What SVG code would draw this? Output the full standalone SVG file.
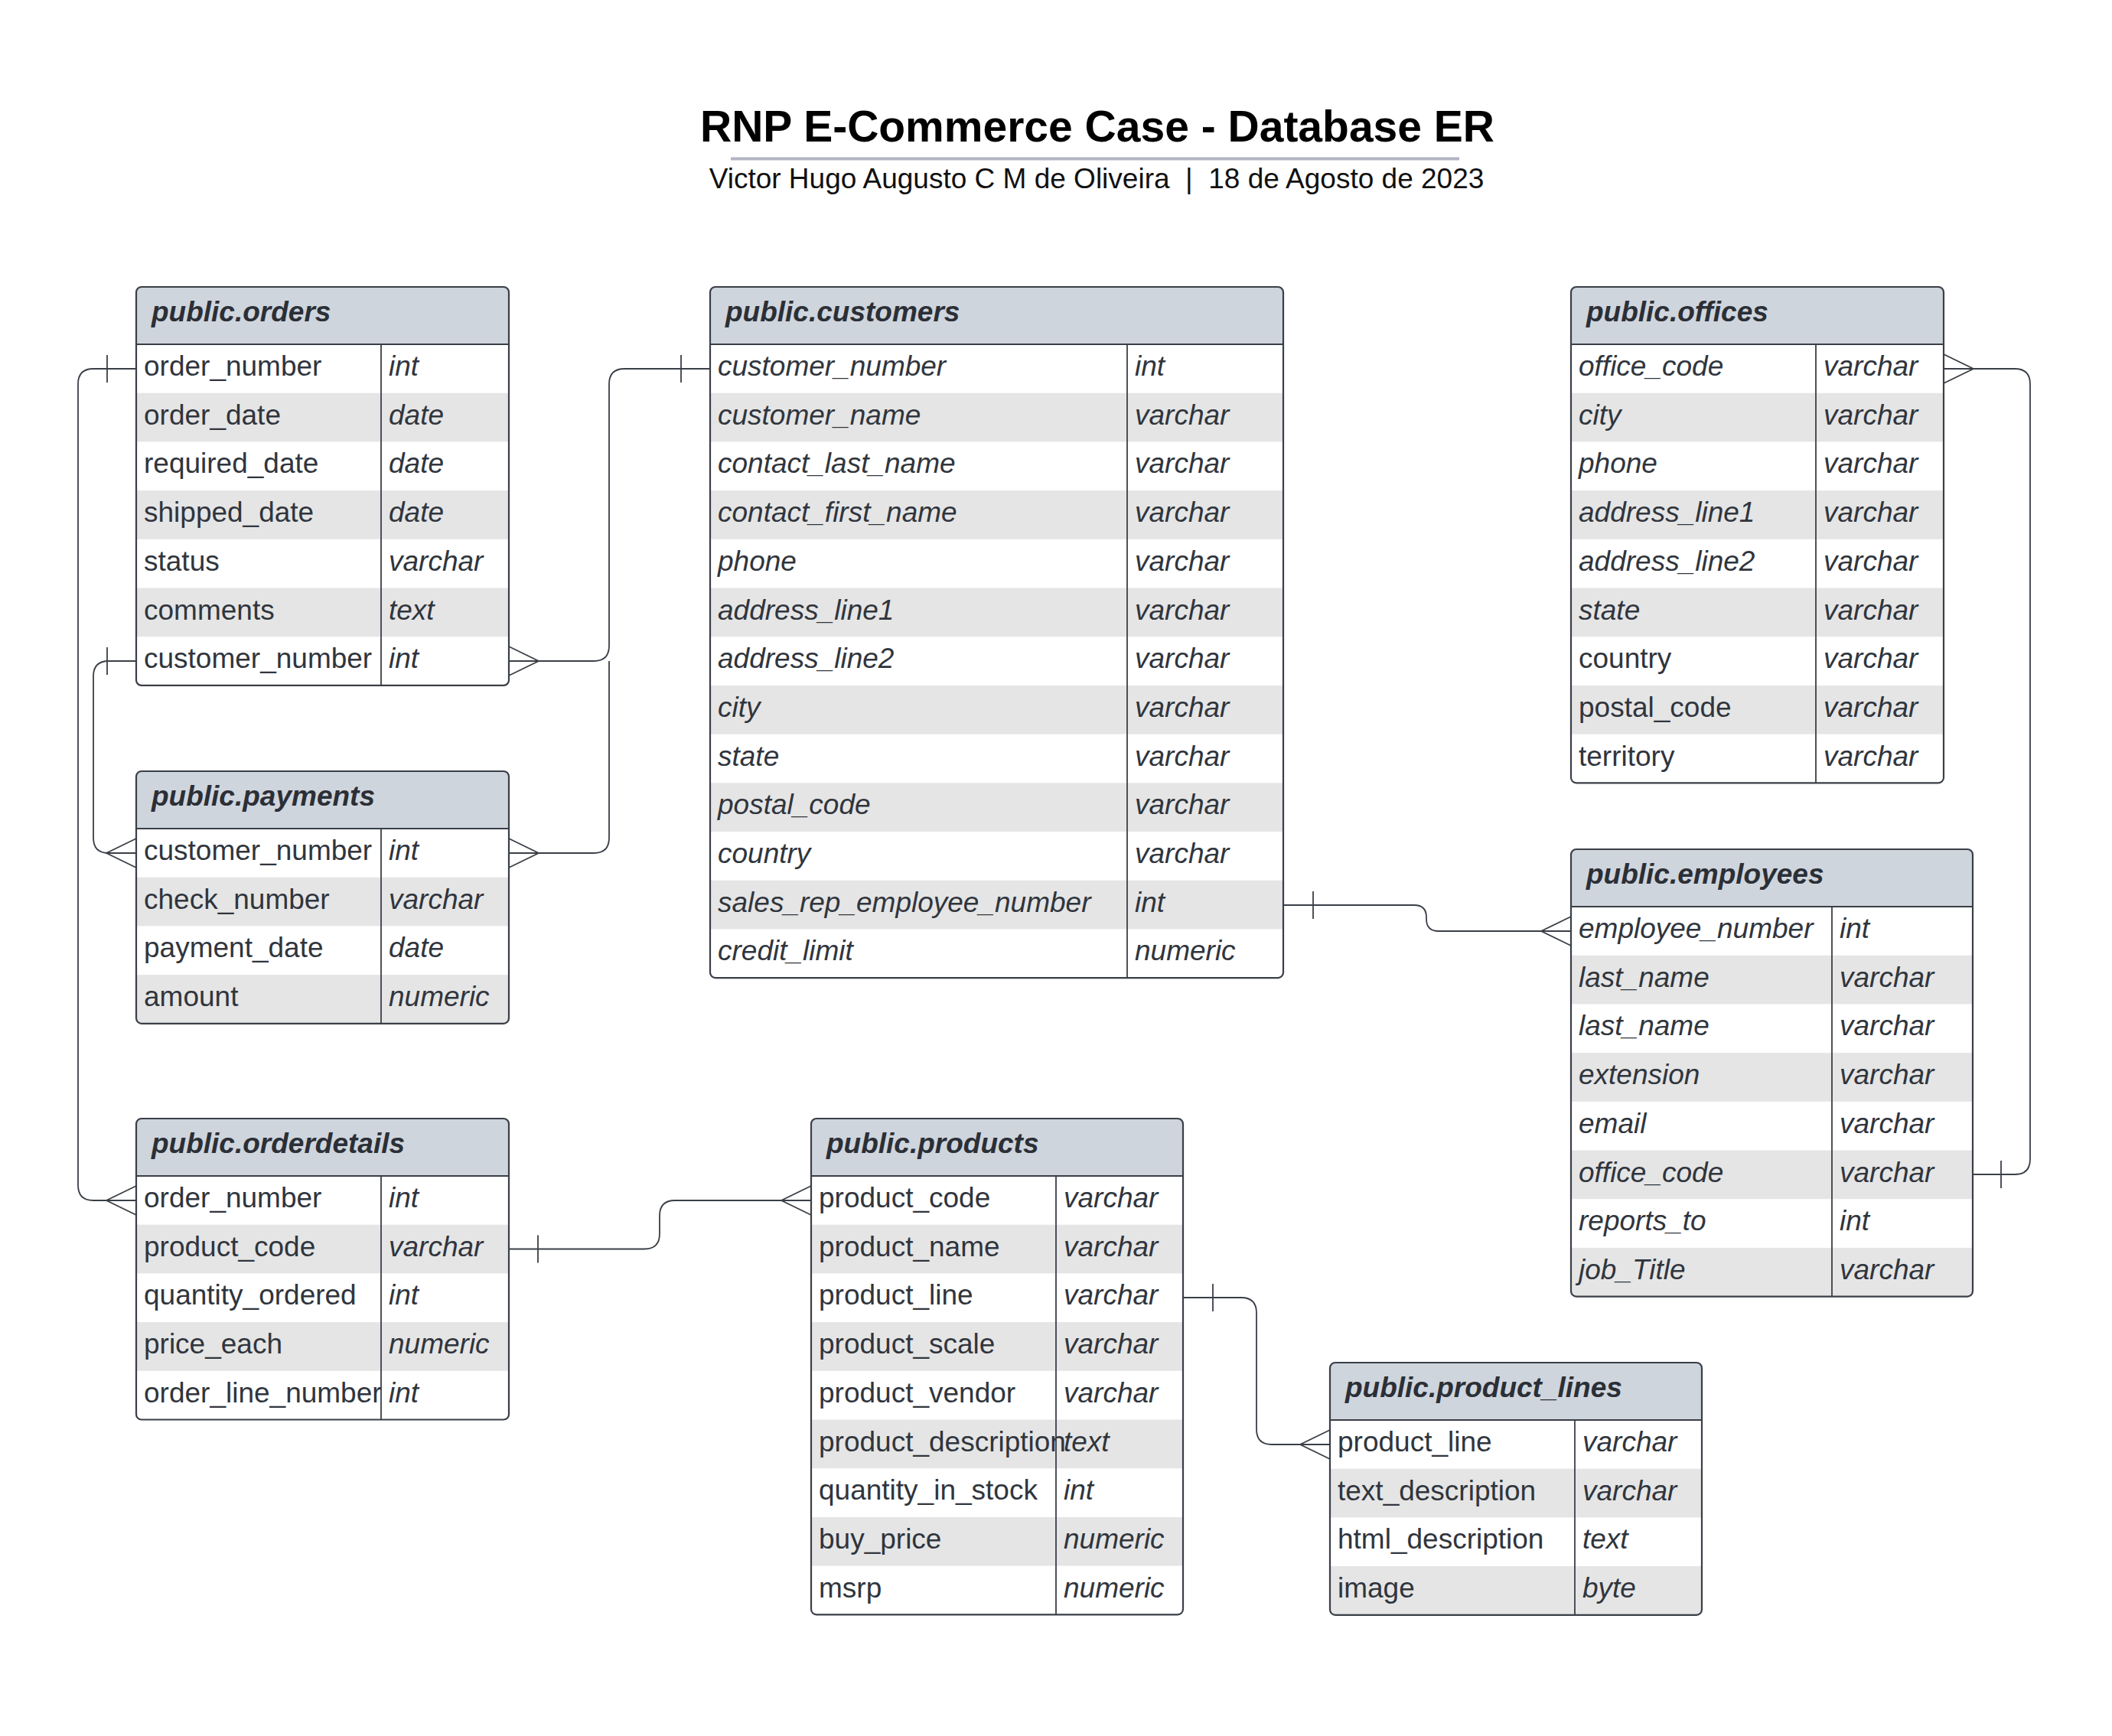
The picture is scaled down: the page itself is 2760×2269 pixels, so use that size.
<svg xmlns="http://www.w3.org/2000/svg" width="2760" height="2269" viewBox="0 0 2760 2269">
<style>
.bg{fill:#ffffff}
.body{fill:#ffffff}
.hdr{fill:#cfd5dd}
.alt{fill:#e5e5e5}
.box{fill:none;stroke:#3a3f47;stroke-width:2.2}
.sep{stroke:#3a3f47;stroke-width:2.2}
.div{stroke:#3a3f47;stroke-width:1.8}
.ht{font-family:"Liberation Sans",Arial,sans-serif;font-size:37px;font-weight:bold;font-style:italic;fill:#2b2f36}
.f{font-family:"Liberation Sans",Arial,sans-serif;font-size:37px;fill:#30353d}
.fi{font-family:"Liberation Sans",Arial,sans-serif;font-size:37px;font-style:italic;fill:#30353d}
.conn{fill:none;stroke:#3a3f47;stroke-width:1.8}
.title{font-family:"Liberation Sans",Arial,sans-serif;font-size:57px;font-weight:bold;fill:#000000}
.sub{font-family:"Liberation Sans",Arial,sans-serif;font-size:37px;fill:#111111;white-space:pre}
</style>
<defs>
<path id="crow" d="M0,-19 L39,0 L0,19"/>
<path id="tick" d="M0,-18 V18"/>
<clipPath id="c-orders"><rect x="178" y="375" width="487" height="520.9" rx="7"/></clipPath>
<clipPath id="c-customers"><rect x="928" y="375" width="749" height="903.1" rx="7"/></clipPath>
<clipPath id="c-offices"><rect x="2053" y="375" width="487" height="648.3" rx="7"/></clipPath>
<clipPath id="c-payments"><rect x="178" y="1008" width="487" height="329.8" rx="7"/></clipPath>
<clipPath id="c-employees"><rect x="2053" y="1110" width="525" height="584.6" rx="7"/></clipPath>
<clipPath id="c-orderdetails"><rect x="178" y="1462" width="487" height="393.5" rx="7"/></clipPath>
<clipPath id="c-products"><rect x="1060" y="1462" width="486" height="648.3" rx="7"/></clipPath>
<clipPath id="c-product_lines"><rect x="1738" y="1781" width="486" height="329.8" rx="7"/></clipPath>
</defs>
<rect class="bg" x="0" y="0" width="2760" height="2269"/>

<g id="title">
<text class="title" x="1434" y="185" text-anchor="middle">RNP E-Commerce Case - Database ER</text>
<line x1="955" y1="207.5" x2="1907" y2="207.5" stroke="#b1b5c4" stroke-width="4"/>
<text class="sub" x="1433" y="246" text-anchor="middle">Victor Hugo Augusto C M de Oliveira  |  18 de Agosto de 2023</text>
</g>

<g id="connectors">
<!-- orders.order_number -> orderdetails.order_number -->
<path class="conn" d="M178,482 H122 Q102,482 102,502 V1549 Q102,1569 122,1569 H178"/>
<use class="conn" href="#tick" transform="translate(140,482)"/>
<use class="conn" href="#crow" transform="translate(178,1569) scale(-1,1)"/>
<!-- orders.customer_number -> customers.customer_number -->
<path class="conn" d="M665,864 H776 Q796,864 796,844 V502 Q796,482 816,482 H928"/>
<use class="conn" href="#crow" transform="translate(665,864)"/>
<use class="conn" href="#tick" transform="translate(890,482)"/>
<!-- payments.customer_number -> customers -->
<path class="conn" d="M665,1115 H776 Q796,1115 796,1095 V864"/>
<use class="conn" href="#crow" transform="translate(665,1115)"/>
<!-- orders.customer_number -> payments.customer_number -->
<path class="conn" d="M178,864 H142 Q122,864 122,884 V1095 Q122,1115 142,1115 H178"/>
<use class="conn" href="#tick" transform="translate(140,864)"/>
<use class="conn" href="#crow" transform="translate(178,1115) scale(-1,1)"/>
<!-- customers.sales_rep_employee_number -> employees.employee_number -->
<path class="conn" d="M1677,1183 H1848 Q1864,1183 1864,1199 V1201 Q1864,1217 1880,1217 H2053"/>
<use class="conn" href="#tick" transform="translate(1716,1183)"/>
<use class="conn" href="#crow" transform="translate(2053,1217) scale(-1,1)"/>
<!-- offices.office_code -> employees.office_code -->
<path class="conn" d="M2540,482 H2633 Q2653,482 2653,502 V1515 Q2653,1535 2633,1535 H2578"/>
<use class="conn" href="#crow" transform="translate(2540,482)"/>
<use class="conn" href="#tick" transform="translate(2615,1535)"/>
<!-- orderdetails.product_code -> products.product_code -->
<path class="conn" d="M665,1632.5 H842 Q862,1632.5 862,1612.5 V1589 Q862,1569 882,1569 H1060"/>
<use class="conn" href="#tick" transform="translate(703,1632.5)"/>
<use class="conn" href="#crow" transform="translate(1060,1569) scale(-1,1)"/>
<!-- products.product_line -> product_lines.product_line -->
<path class="conn" d="M1546,1696 H1622 Q1642,1696 1642,1716 V1868 Q1642,1888 1662,1888 H1738"/>
<use class="conn" href="#tick" transform="translate(1585,1696)"/>
<use class="conn" href="#crow" transform="translate(1738,1888) scale(-1,1)"/>
</g>

<g id="orders">
<g clip-path="url(#c-orders)">
<rect class="body" x="178" y="375" width="487" height="520.9"/>
<rect class="hdr" x="178" y="375" width="487" height="75"/>
<rect class="alt" x="178" y="513.7" width="487" height="63.7"/>
<rect class="alt" x="178" y="641.1" width="487" height="63.7"/>
<rect class="alt" x="178" y="768.5" width="487" height="63.7"/>
</g>
<line class="sep" x1="178" y1="450" x2="665" y2="450"/>
<line class="div" x1="498" y1="450" x2="498" y2="895.9"/>
<rect class="box" x="178" y="375" width="487" height="520.9" rx="7"/>
<text class="ht" x="198" y="420">public.orders</text>
<text class="f" x="188" y="491">order_number</text><text class="fi" x="508" y="491">int</text>
<text class="f" x="188" y="554.7">order_date</text><text class="fi" x="508" y="554.7">date</text>
<text class="f" x="188" y="618.4">required_date</text><text class="fi" x="508" y="618.4">date</text>
<text class="f" x="188" y="682.1">shipped_date</text><text class="fi" x="508" y="682.1">date</text>
<text class="f" x="188" y="745.8">status</text><text class="fi" x="508" y="745.8">varchar</text>
<text class="f" x="188" y="809.5">comments</text><text class="fi" x="508" y="809.5">text</text>
<text class="f" x="188" y="873.2">customer_number</text><text class="fi" x="508" y="873.2">int</text>
</g>

<g id="customers">
<g clip-path="url(#c-customers)">
<rect class="body" x="928" y="375" width="749" height="903.1"/>
<rect class="hdr" x="928" y="375" width="749" height="75"/>
<rect class="alt" x="928" y="513.7" width="749" height="63.7"/>
<rect class="alt" x="928" y="641.1" width="749" height="63.7"/>
<rect class="alt" x="928" y="768.5" width="749" height="63.7"/>
<rect class="alt" x="928" y="895.9" width="749" height="63.7"/>
<rect class="alt" x="928" y="1023.3" width="749" height="63.7"/>
<rect class="alt" x="928" y="1150.7" width="749" height="63.7"/>
</g>
<line class="sep" x1="928" y1="450" x2="1677" y2="450"/>
<line class="div" x1="1473" y1="450" x2="1473" y2="1278.1"/>
<rect class="box" x="928" y="375" width="749" height="903.1" rx="7"/>
<text class="ht" x="948" y="420">public.customers</text>
<text class="fi" x="938" y="491">customer_number</text><text class="fi" x="1483" y="491">int</text>
<text class="fi" x="938" y="554.7">customer_name</text><text class="fi" x="1483" y="554.7">varchar</text>
<text class="fi" x="938" y="618.4">contact_last_name</text><text class="fi" x="1483" y="618.4">varchar</text>
<text class="fi" x="938" y="682.1">contact_first_name</text><text class="fi" x="1483" y="682.1">varchar</text>
<text class="fi" x="938" y="745.8">phone</text><text class="fi" x="1483" y="745.8">varchar</text>
<text class="fi" x="938" y="809.5">address_line1</text><text class="fi" x="1483" y="809.5">varchar</text>
<text class="fi" x="938" y="873.2">address_line2</text><text class="fi" x="1483" y="873.2">varchar</text>
<text class="fi" x="938" y="936.9">city</text><text class="fi" x="1483" y="936.9">varchar</text>
<text class="fi" x="938" y="1000.6">state</text><text class="fi" x="1483" y="1000.6">varchar</text>
<text class="fi" x="938" y="1064.3">postal_code</text><text class="fi" x="1483" y="1064.3">varchar</text>
<text class="fi" x="938" y="1128">country</text><text class="fi" x="1483" y="1128">varchar</text>
<text class="fi" x="938" y="1191.7">sales_rep_employee_number</text><text class="fi" x="1483" y="1191.7">int</text>
<text class="fi" x="938" y="1255.4">credit_limit</text><text class="fi" x="1483" y="1255.4">numeric</text>
</g>

<g id="offices">
<g clip-path="url(#c-offices)">
<rect class="body" x="2053" y="375" width="487" height="648.3"/>
<rect class="hdr" x="2053" y="375" width="487" height="75"/>
<rect class="alt" x="2053" y="513.7" width="487" height="63.7"/>
<rect class="alt" x="2053" y="641.1" width="487" height="63.7"/>
<rect class="alt" x="2053" y="768.5" width="487" height="63.7"/>
<rect class="alt" x="2053" y="895.9" width="487" height="63.7"/>
</g>
<line class="sep" x1="2053" y1="450" x2="2540" y2="450"/>
<line class="div" x1="2373" y1="450" x2="2373" y2="1023.3"/>
<rect class="box" x="2053" y="375" width="487" height="648.3" rx="7"/>
<text class="ht" x="2073" y="420">public.offices</text>
<text class="fi" x="2063" y="491">office_code</text><text class="fi" x="2383" y="491">varchar</text>
<text class="fi" x="2063" y="554.7">city</text><text class="fi" x="2383" y="554.7">varchar</text>
<text class="fi" x="2063" y="618.4">phone</text><text class="fi" x="2383" y="618.4">varchar</text>
<text class="fi" x="2063" y="682.1">address_line1</text><text class="fi" x="2383" y="682.1">varchar</text>
<text class="fi" x="2063" y="745.8">address_line2</text><text class="fi" x="2383" y="745.8">varchar</text>
<text class="fi" x="2063" y="809.5">state</text><text class="fi" x="2383" y="809.5">varchar</text>
<text class="f" x="2063" y="873.2">country</text><text class="fi" x="2383" y="873.2">varchar</text>
<text class="f" x="2063" y="936.9">postal_code</text><text class="fi" x="2383" y="936.9">varchar</text>
<text class="f" x="2063" y="1000.6">territory</text><text class="fi" x="2383" y="1000.6">varchar</text>
</g>

<g id="payments">
<g clip-path="url(#c-payments)">
<rect class="body" x="178" y="1008" width="487" height="329.8"/>
<rect class="hdr" x="178" y="1008" width="487" height="75"/>
<rect class="alt" x="178" y="1146.7" width="487" height="63.7"/>
<rect class="alt" x="178" y="1274.1" width="487" height="63.7"/>
</g>
<line class="sep" x1="178" y1="1083" x2="665" y2="1083"/>
<line class="div" x1="498" y1="1083" x2="498" y2="1337.8"/>
<rect class="box" x="178" y="1008" width="487" height="329.8" rx="7"/>
<text class="ht" x="198" y="1053">public.payments</text>
<text class="f" x="188" y="1124">customer_number</text><text class="fi" x="508" y="1124">int</text>
<text class="f" x="188" y="1187.7">check_number</text><text class="fi" x="508" y="1187.7">varchar</text>
<text class="f" x="188" y="1251.4">payment_date</text><text class="fi" x="508" y="1251.4">date</text>
<text class="f" x="188" y="1315.1">amount</text><text class="fi" x="508" y="1315.1">numeric</text>
</g>

<g id="employees">
<g clip-path="url(#c-employees)">
<rect class="body" x="2053" y="1110" width="525" height="584.6"/>
<rect class="hdr" x="2053" y="1110" width="525" height="75"/>
<rect class="alt" x="2053" y="1248.7" width="525" height="63.7"/>
<rect class="alt" x="2053" y="1376.1" width="525" height="63.7"/>
<rect class="alt" x="2053" y="1503.5" width="525" height="63.7"/>
<rect class="alt" x="2053" y="1630.9" width="525" height="63.7"/>
</g>
<line class="sep" x1="2053" y1="1185" x2="2578" y2="1185"/>
<line class="div" x1="2394" y1="1185" x2="2394" y2="1694.6"/>
<rect class="box" x="2053" y="1110" width="525" height="584.6" rx="7"/>
<text class="ht" x="2073" y="1155">public.employees</text>
<text class="fi" x="2063" y="1226">employee_number</text><text class="fi" x="2404" y="1226">int</text>
<text class="fi" x="2063" y="1289.7">last_name</text><text class="fi" x="2404" y="1289.7">varchar</text>
<text class="fi" x="2063" y="1353.4">last_name</text><text class="fi" x="2404" y="1353.4">varchar</text>
<text class="fi" x="2063" y="1417.1">extension</text><text class="fi" x="2404" y="1417.1">varchar</text>
<text class="fi" x="2063" y="1480.8">email</text><text class="fi" x="2404" y="1480.8">varchar</text>
<text class="fi" x="2063" y="1544.5">office_code</text><text class="fi" x="2404" y="1544.5">varchar</text>
<text class="fi" x="2063" y="1608.2">reports_to</text><text class="fi" x="2404" y="1608.2">int</text>
<text class="fi" x="2063" y="1671.9">job_Title</text><text class="fi" x="2404" y="1671.9">varchar</text>
</g>

<g id="orderdetails">
<g clip-path="url(#c-orderdetails)">
<rect class="body" x="178" y="1462" width="487" height="393.5"/>
<rect class="hdr" x="178" y="1462" width="487" height="75"/>
<rect class="alt" x="178" y="1600.7" width="487" height="63.7"/>
<rect class="alt" x="178" y="1728.1" width="487" height="63.7"/>
</g>
<line class="sep" x1="178" y1="1537" x2="665" y2="1537"/>
<line class="div" x1="498" y1="1537" x2="498" y2="1855.5"/>
<rect class="box" x="178" y="1462" width="487" height="393.5" rx="7"/>
<text class="ht" x="198" y="1507">public.orderdetails</text>
<text class="f" x="188" y="1578">order_number</text><text class="fi" x="508" y="1578">int</text>
<text class="f" x="188" y="1641.7">product_code</text><text class="fi" x="508" y="1641.7">varchar</text>
<text class="f" x="188" y="1705.4">quantity_ordered</text><text class="fi" x="508" y="1705.4">int</text>
<text class="f" x="188" y="1769.1">price_each</text><text class="fi" x="508" y="1769.1">numeric</text>
<text class="f" x="188" y="1832.8">order_line_number</text><text class="fi" x="508" y="1832.8">int</text>
</g>

<g id="products">
<g clip-path="url(#c-products)">
<rect class="body" x="1060" y="1462" width="486" height="648.3"/>
<rect class="hdr" x="1060" y="1462" width="486" height="75"/>
<rect class="alt" x="1060" y="1600.7" width="486" height="63.7"/>
<rect class="alt" x="1060" y="1728.1" width="486" height="63.7"/>
<rect class="alt" x="1060" y="1855.5" width="486" height="63.7"/>
<rect class="alt" x="1060" y="1982.9" width="486" height="63.7"/>
</g>
<line class="sep" x1="1060" y1="1537" x2="1546" y2="1537"/>
<line class="div" x1="1380" y1="1537" x2="1380" y2="2110.3"/>
<rect class="box" x="1060" y="1462" width="486" height="648.3" rx="7"/>
<text class="ht" x="1080" y="1507">public.products</text>
<text class="f" x="1070" y="1578">product_code</text><text class="fi" x="1390" y="1578">varchar</text>
<text class="f" x="1070" y="1641.7">product_name</text><text class="fi" x="1390" y="1641.7">varchar</text>
<text class="f" x="1070" y="1705.4">product_line</text><text class="fi" x="1390" y="1705.4">varchar</text>
<text class="f" x="1070" y="1769.1">product_scale</text><text class="fi" x="1390" y="1769.1">varchar</text>
<text class="f" x="1070" y="1832.8">product_vendor</text><text class="fi" x="1390" y="1832.8">varchar</text>
<text class="f" x="1070" y="1896.5">product_description</text><text class="fi" x="1390" y="1896.5">text</text>
<text class="f" x="1070" y="1960.2">quantity_in_stock</text><text class="fi" x="1390" y="1960.2">int</text>
<text class="f" x="1070" y="2023.9">buy_price</text><text class="fi" x="1390" y="2023.9">numeric</text>
<text class="f" x="1070" y="2087.6">msrp</text><text class="fi" x="1390" y="2087.6">numeric</text>
</g>

<g id="product_lines">
<g clip-path="url(#c-product_lines)">
<rect class="body" x="1738" y="1781" width="486" height="329.8"/>
<rect class="hdr" x="1738" y="1781" width="486" height="75"/>
<rect class="alt" x="1738" y="1919.7" width="486" height="63.7"/>
<rect class="alt" x="1738" y="2047.1" width="486" height="63.7"/>
</g>
<line class="sep" x1="1738" y1="1856" x2="2224" y2="1856"/>
<line class="div" x1="2058" y1="1856" x2="2058" y2="2110.8"/>
<rect class="box" x="1738" y="1781" width="486" height="329.8" rx="7"/>
<text class="ht" x="1758" y="1826">public.product_lines</text>
<text class="f" x="1748" y="1897">product_line</text><text class="fi" x="2068" y="1897">varchar</text>
<text class="f" x="1748" y="1960.7">text_description</text><text class="fi" x="2068" y="1960.7">varchar</text>
<text class="f" x="1748" y="2024.4">html_description</text><text class="fi" x="2068" y="2024.4">text</text>
<text class="f" x="1748" y="2088.1">image</text><text class="fi" x="2068" y="2088.1">byte</text>
</g>
</svg>
